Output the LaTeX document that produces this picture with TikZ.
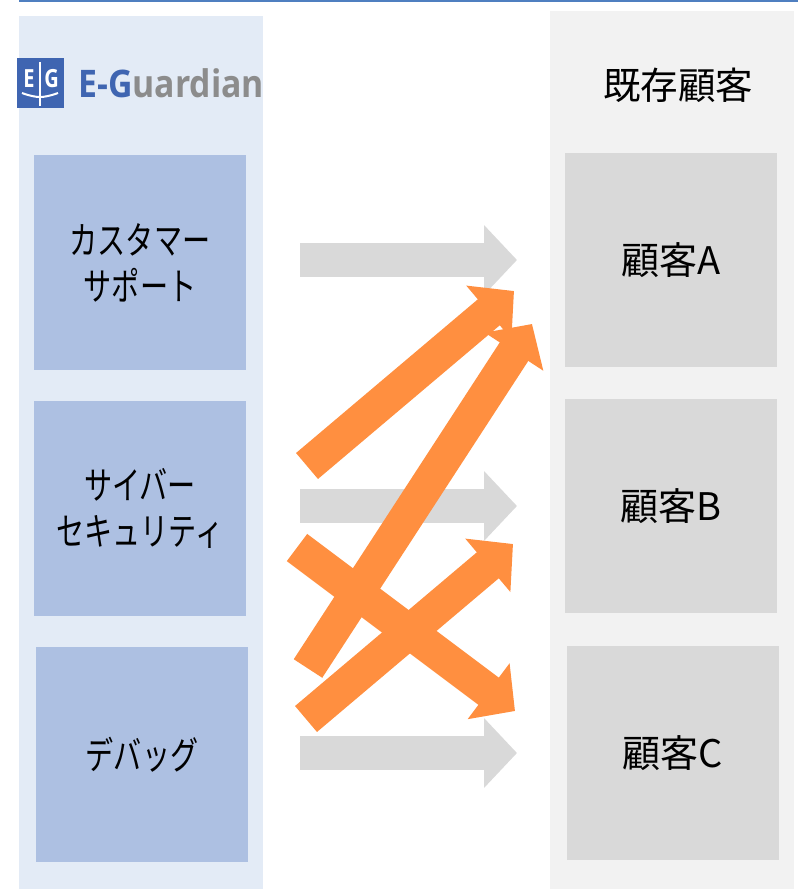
\documentclass[tikz,border=0pt]{standalone}
\usepackage{fontspec}
\usetikzlibrary{arrows.meta}
\newfontfamily\jpfont{Noto Sans CJK JP}
\newfontfamily\kanafont[FakeStretch=0.74]{Noto Sans CJK JP}
\newfontfamily\logofont[FakeStretch=0.89]{Open Sans}
\newfontfamily\logomarkfont[FakeStretch=0.8]{Open Sans}
\definecolor{panelblue}{HTML}{E3EBF6}
\definecolor{panelgray}{HTML}{F2F2F2}
\definecolor{boxblue}{HTML}{ADC0E2}
\definecolor{boxgray}{HTML}{D9D9D9}
\definecolor{arroworange}{HTML}{FF8F40}
\definecolor{logoblue}{HTML}{3F65B1}
\definecolor{logogray}{HTML}{8C8C8C}
\definecolor{rulecolor}{HTML}{4F7FC0}
\tikzset{
  teambox/.style={fill=boxblue, minimum width=212pt, minimum height=215pt, inner sep=0pt, align=center, font=\fontsize{38}{46}\kanafont},
  custbox/.style={fill=boxgray, minimum width=212pt, minimum height=214pt, inner sep=0pt, font=\fontsize{38}{46}\jpfont},
  logoletter/.style={text=white, inner sep=0pt, font=\fontsize{25}{25}\logomarkfont\bfseries},
  flow/.style={line width=34pt, -{Triangle[length=33pt,width=68pt]}},
  grayflow/.style={flow, draw=boxgray},
  orangeflow/.style={flow, draw=arroworange}
}
\begin{document}
\begin{tikzpicture}[x=1pt, y=-1pt, node distance=246pt]
\useasboundingbox (0,0) rectangle (798,889);

% panels
\fill [rulecolor] (19,0) rectangle (798,2);
\fill [panelblue] (19,16) rectangle (263,889);
\fill [panelgray] (550,11) rectangle (794,889);

% logo
\node [fill=logoblue, minimum width=47pt, minimum height=50pt, inner sep=0pt] (logo) at (40.5,83) {};
\node [logoletter] (logoE) at (29,79) {E};
\node [logoletter] (logoG) at (51.5,79) {G};
\draw [white, line width=2pt] (40,62) -- (40,106);
\draw [white, line width=2pt] (22,93) .. controls (30,96) and (36,97) .. (40,97) .. controls (44,97) and (50,96) .. (58,93);
\node [anchor=west, inner sep=0pt, font=\fontsize{38}{38}\logofont\bfseries] (logotext) at (78,83) {\textcolor{logoblue}{E-G}\textcolor{logogray}{uardian}};

% teams
\node [teambox] (support) at (140,262.5) {カスタマー\\サポート};
\node [teambox] (cyber) [below of=support] {サイバー\\セキュリティ};
\node [teambox, xshift=2pt] (debug) [below of=cyber] {デバッグ};

% customers
\node [anchor=center, font=\fontsize{37.5}{37.5}\jpfont, inner sep=0pt] (existing) at (678,85) {既存顧客};
\node [custbox] (custA) at (671,260) {顧客A};
\node [custbox] (custB) [below of=custA] {顧客B};
\node [custbox, xshift=2pt] (custC) at (671,753) {顧客C};

% arrow ends
\coordinate (g1s) at (300,260);
\coordinate (g1t) at (517,260);
\coordinate (g2s) at (300,506);
\coordinate (g2t) at (517,506);
\coordinate (g3s) at (300,753);
\coordinate (g3t) at (517,753);
\coordinate (o1s) at (307,466);
\coordinate (o1t) at (514,291);
\coordinate (o2s) at (308,668.5);
\coordinate (o2t) at (532,324);
\coordinate (o3s) at (297,547.5);
\coordinate (o3t) at (515,711);
\coordinate (o4s) at (306,719);
\coordinate (o4t) at (513,544);

\draw [grayflow] (g1s) -- (g1t);
\draw [grayflow] (g2s) -- (g2t);
\draw [grayflow] (g3s) -- (g3t);
\draw [orangeflow] (o1s) -- (o1t);
\draw [orangeflow] (o2s) -- (o2t);
\draw [orangeflow] (o3s) -- (o3t);
\draw [orangeflow] (o4s) -- (o4t);
\end{tikzpicture}
\end{document}
